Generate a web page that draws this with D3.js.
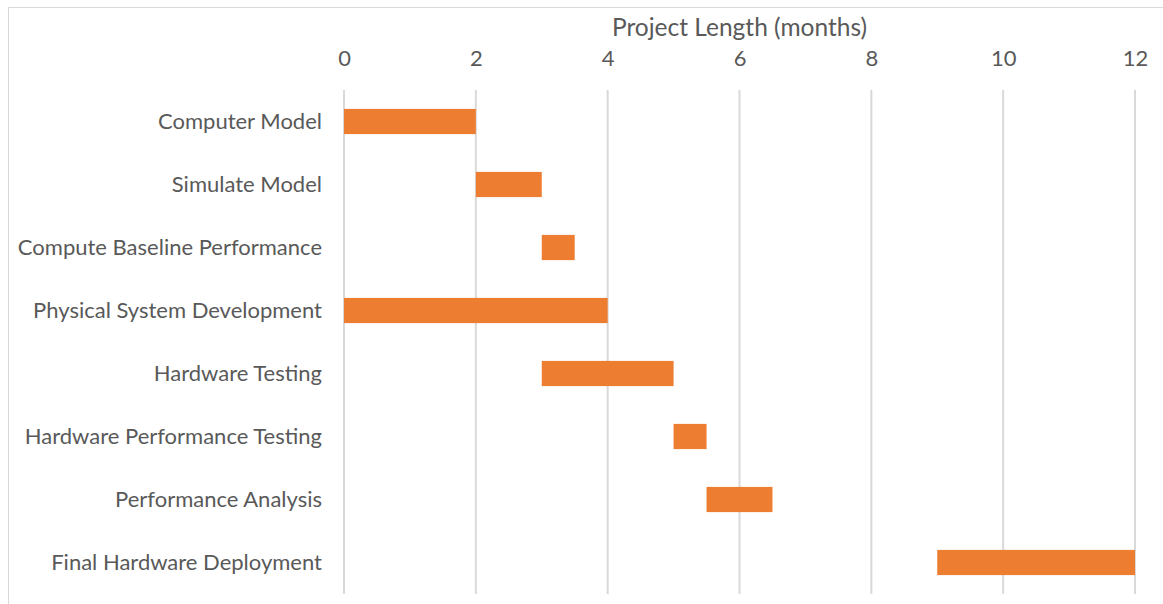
<html lang="en">
<head>
    <title>Project Length</title>
    <style>
        body {
            margin: 0;
            background-color: white;
        }
        .frame {
            fill: white;
            stroke: #d9d9d9;
        }
        .grid line {
            stroke: #d9d9d9;
            stroke-width: 2;
        }
        text {
            font-family: Lato, "Open Sans", sans-serif;
            fill: #595959;
        }
    </style>
</head>
<body>
<div id="chart"></div>
<script src="https://d3js.org/d3.v7.min.js"></script>
<script>
    // gantt data
    var tasks = ["Computer Model", "Simulate Model", "Compute Baseline Performance",
        "Physical System Development", "Hardware Testing", "Hardware Performance Testing",
        "Performance Analysis", "Final Hardware Deployment"];
    var starts = [0, 2, 3, 0, 3, 5, 5.5, 9];
    var durations = [2, 1, 0.5, 4, 2, 0.5, 1, 3];
    var ticks = [0, 2, 4, 6, 8, 10, 12];
    var axisTitle = "Project Length (months)";

    var width = 1163;
    var height = 604;
    var margin = {top: 90, right: 28, bottom: 10, left: 344};

    var svg = d3.select("#chart")
        .append("svg")
        .attr("width", width)
        .attr("height", height);

    // chart frame, cut off at the right and bottom like the screenshot
    svg.append("rect")
        .attr("class", "frame")
        .attr("x", 8.5)
        .attr("y", 7.5)
        .attr("width", width + 10)
        .attr("height", height + 10);

    var x = d3.scaleLinear()
        .domain([0, 12])
        .range([margin.left, width - margin.right]);

    var y = d3.scaleBand()
        .domain(tasks)
        .range([margin.top, height - margin.bottom])
        .paddingInner(0.6)
        .paddingOuter(0.3);

    // vertical gridlines
    svg.append("g")
        .attr("class", "grid")
        .selectAll("line")
        .data(ticks)
        .enter()
        .append("line")
        .attr("x1", d => x(d))
        .attr("x2", d => x(d))
        .attr("y1", margin.top)
        .attr("y2", height - margin.bottom);

    // top axis labels
    var xAxis = d3.axisTop(x).tickValues(ticks).tickSize(0).tickPadding(0);
    var gx = svg.append("g")
        .attr("transform", "translate(0,66)")
        .call(xAxis);
    gx.select(".domain").remove();
    gx.selectAll("text")
        .style("font-size", "22px")
        .style("font-family", "Lato, 'Open Sans', sans-serif")
        .attr("fill", "#595959");

    svg.append("text")
        .attr("x", (x(0) + x(12)) / 2)
        .attr("y", 36)
        .attr("text-anchor", "middle")
        .style("font-size", "24.5px")
        .text(axisTitle);

    // task labels
    var yAxis = d3.axisLeft(y).tickSize(0).tickPadding(22);
    var gy = svg.append("g")
        .attr("transform", "translate(" + margin.left + ",0)")
        .call(yAxis);
    gy.select(".domain").remove();
    gy.selectAll("text")
        .style("font-size", "22px")
        .style("font-family", "Lato, 'Open Sans', sans-serif")
        .attr("fill", "#595959");

    // bars
    svg.append("g")
        .selectAll("rect")
        .data(tasks)
        .enter()
        .append("rect")
        .attr("x", (d, i) => x(starts[i]))
        .attr("y", d => y(d))
        .attr("width", (d, i) => x(starts[i] + durations[i]) - x(starts[i]))
        .attr("height", y.bandwidth())
        .attr("fill", "#ed7d31");
</script>
</body>
</html>
